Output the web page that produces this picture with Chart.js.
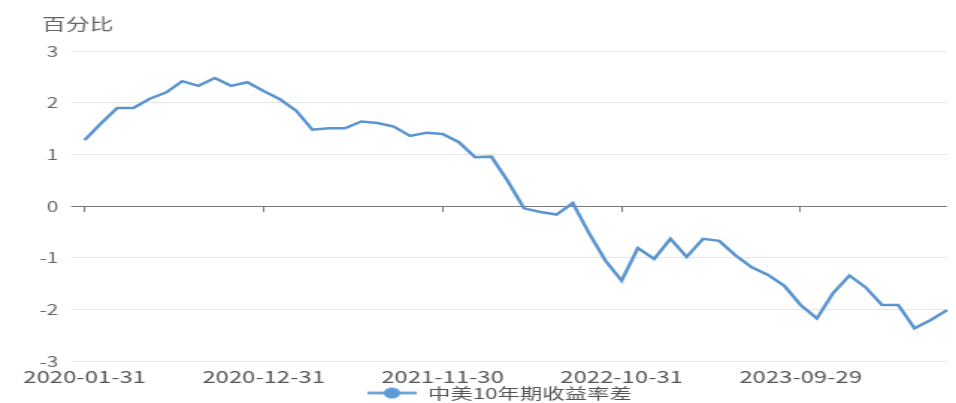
<!DOCTYPE html>
<html lang="zh-CN">

<head>
    <meta charset="UTF-8">
    <title>中美10年期收益率差</title>
    <style>
        body {
            margin: 0;
            padding: 0;
            background: #fff;
        }

        #spreadChart {
            display: block;
        }
    </style>
</head>

<body>

    <!-- drawn at 640 wide, stretched to 956 by the inline style -->
    <canvas id="spreadChart" width="640" height="403" style="width:956px;height:403px"></canvas>

    <script src="https://cdn.jsdelivr.net/npm/chart.js"></script>
    <script>
        // month-end dates
        const dates = [
            '2020-01-31', '2020-02-28', '2020-03-31', '2020-04-30', '2020-05-29', '2020-06-30',
            '2020-07-31', '2020-08-31', '2020-09-30', '2020-10-30', '2020-11-30', '2020-12-31',
            '2021-01-29', '2021-02-26', '2021-03-31', '2021-04-30', '2021-05-31', '2021-06-30',
            '2021-07-30', '2021-08-31', '2021-09-30', '2021-10-29', '2021-11-30', '2021-12-31',
            '2022-01-31', '2022-02-28', '2022-03-31', '2022-04-29', '2022-05-31', '2022-06-30',
            '2022-07-29', '2022-08-31', '2022-09-30', '2022-10-31', '2022-11-30', '2022-12-30',
            '2023-01-31', '2023-02-28', '2023-03-31', '2023-04-28', '2023-05-31', '2023-06-30',
            '2023-07-31', '2023-08-31', '2023-09-29', '2023-10-31', '2023-11-30', '2023-12-29',
            '2024-01-31', '2024-02-29', '2024-03-29', '2024-04-30', '2024-05-31', '2024-06-28'
        ];

        // China minus US 10y yield, percentage points
        const spread = [
            1.28, 1.60, 1.90, 1.90, 2.08, 2.20, 2.42, 2.33, 2.48, 2.33, 2.40, 2.23,
            2.07, 1.85, 1.48, 1.51, 1.51, 1.64, 1.61, 1.54, 1.36, 1.42, 1.40, 1.24,
            0.95, 0.96, 0.49, -0.04, -0.11, -0.16, 0.06, -0.52, -1.05, -1.44, -0.81, -1.02,
            -0.63, -0.98, -0.63, -0.67, -0.95, -1.18, -1.33, -1.54, -1.91, -2.17, -1.68, -1.34,
            -1.57, -1.91, -1.91, -2.36, -2.20, -2.01
        ];

        // dates that get a label / tick mark on the x axis
        const xTickLabels = ['2020-01-31', '2020-12-31', '2021-11-30', '2022-10-31', '2023-09-29'];
        const yMin = -3;
        const yMax = 3;

        const lineColor = '#5b95d0';
        const cjkFont = "'Noto Sans CJK SC', 'Noto Sans', sans-serif";

        // legend marker: short line with a dot in the middle
        const marker = document.createElement('canvas');
        marker.width = 33;
        marker.height = 13;
        const mctx = marker.getContext('2d');
        mctx.strokeStyle = lineColor;
        mctx.lineWidth = 2.5;
        mctx.beginPath();
        mctx.moveTo(0, 6.5);
        mctx.lineTo(33, 6.5);
        mctx.stroke();
        mctx.fillStyle = '#5b9bd8';
        mctx.beginPath();
        mctx.arc(16.5, 6.5, 5.5, 0, Math.PI * 2);
        mctx.fill();

        const isShown = (i) => xTickLabels.includes(dates[i]);

        // move the title and legend sideways once the layout is done
        const nudgeBlocks = {
            id: 'nudgeBlocks',
            afterLayout(chart) {
                chart.titleBlock.left += 10;
                chart.titleBlock.right += 10;
                chart.legend.left += 8;
                chart.legend.right += 8;
            }
        };

        const ctx = document.getElementById('spreadChart').getContext('2d');
        const spreadChart = new Chart(ctx, {
            type: 'line',
            data: {
                labels: dates,
                datasets: [{
                    label: '中美10年期收益率差',
                    data: spread,
                    borderColor: lineColor,
                    backgroundColor: lineColor,
                    borderWidth: 2.5,
                    pointRadius: 0,
                    tension: 0
                }]
            },
            plugins: [nudgeBlocks],
            options: {
                responsive: false,
                devicePixelRatio: 1,
                animation: false,
                font: { family: cjkFont },
                layout: {
                    padding: { left: 18, right: 5, top: 0, bottom: -7.5 }
                },
                plugins: {
                    title: {
                        display: true,
                        text: '百分比',
                        align: 'start',
                        color: '#666',
                        font: { size: 16, weight: 'normal', family: cjkFont },
                        padding: { top: 14, bottom: 18 }
                    },
                    legend: {
                        position: 'bottom',
                        labels: {
                            usePointStyle: true,
                            pointStyleWidth: 33,
                            padding: 0,
                            color: '#555',
                            font: { size: 15, family: cjkFont },
                            generateLabels: (chart) => chart.data.datasets.map((ds, i) => ({
                                text: ds.label,
                                pointStyle: marker,
                                fontColor: '#555',
                                datasetIndex: i,
                                hidden: false,
                                lineWidth: 0
                            }))
                        }
                    },
                    tooltip: { enabled: false }
                },
                scales: {
                    x: {
                        position: 'bottom',
                        // pull the legend up closer to the date labels
                        afterFit: (scale) => { scale.height -= 7; },
                        grid: { display: false, drawTicks: false },
                        border: { display: false },
                        ticks: {
                            autoSkip: false,
                            maxRotation: 0,
                            padding: 6,
                            color: '#555',
                            font: { size: 16, family: cjkFont },
                            callback: function (value, index) {
                                return isShown(index) ? this.getLabelForValue(value) : '';
                            }
                        }
                    },
                    // axis line through zero, only carries the tick marks
                    zeroAxis: {
                        type: 'category',
                        axis: 'x',
                        position: { y: 0 },
                        afterFit: (scale) => { scale.height = 0; },
                        border: { display: false },
                        grid: {
                            drawOnChartArea: false,
                            tickLength: 6,
                            tickWidth: 1,
                            tickColor: (c) => isShown(c.index) ? '#777' : 'rgba(0,0,0,0)'
                        },
                        ticks: { display: false, autoSkip: false }
                    },
                    y: {
                        min: yMin,
                        max: yMax,
                        border: { display: false },
                        grid: {
                            tickLength: 9,
                            color: (c) => c.tick && c.tick.value === 0 ? '#777' : '#e6e6e6',
                            lineWidth: 1
                        },
                        ticks: {
                            stepSize: 1,
                            padding: 8.5,
                            color: '#666',
                            font: { size: 14, family: cjkFont }
                        }
                    }
                }
            }
        });
    </script>

</body>

</html>
